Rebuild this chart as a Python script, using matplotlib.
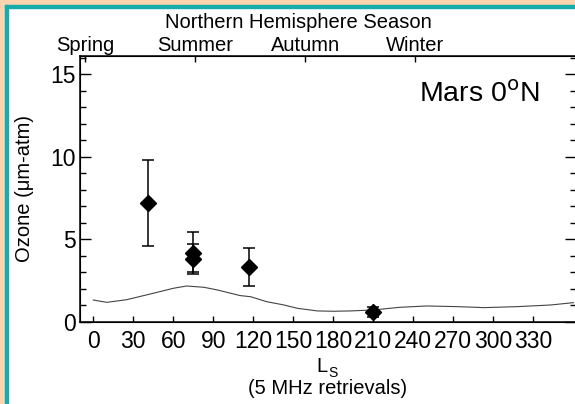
import numpy as np
import matplotlib
matplotlib.use("Agg")
import matplotlib.pyplot as plt
from matplotlib.patches import Rectangle

plt.rcParams['font.family'] = ['Liberation Sans', 'DejaVu Sans']

# retrievals (5 MHz)
ls_obs = [41, 75, 75, 116.5, 210]
ozone_obs = [7.2, 4.2, 3.8, 3.3, 0.6]
err_lo = [2.6, 1.15, 0.9, 1.15, 0.3]
err_hi = [2.6, 1.25, 0.9, 1.15, 0.3]

# model curve
ls_model = [0, 10, 25, 43, 60, 70, 83, 93, 110, 118, 130, 143, 153, 168,
            180, 193, 210, 230, 250, 273, 293, 318, 343, 360]
ozone_model = [1.33, 1.19, 1.35, 1.70, 2.04, 2.18, 2.10, 1.94, 1.60, 1.53,
               1.23, 1.03, 0.83, 0.67, 0.65, 0.67, 0.73, 0.89, 0.97, 0.93,
               0.87, 0.93, 1.03, 1.17]

xticks = list(range(0, 331, 30))
seasons = ['Spring', 'Summer', 'Autumn', 'Winter']
season_ls = [-6, 76.5, 159, 241.5]

W, H = 575, 404
fig = plt.figure(figsize=(W / 100, H / 100), dpi=100)
fs = 14.5
tfs = 16.5

# frame around the picture
fig.patches.append(Rectangle((0, 1 - 5 / H), 1, 5 / H, transform=fig.transFigure,
                             color='#fdd4ae', zorder=0))
fig.patches.append(Rectangle((0, 0), 5 / W, 1, transform=fig.transFigure,
                             color='#fdd4ae', zorder=0))
fig.patches.append(Rectangle((5 / W, 0), 2.5 / W, 1 - 5 / H, transform=fig.transFigure,
                             color='#17acab', zorder=1))
fig.patches.append(Rectangle((5 / W, 1 - 7.5 / H), 1, 2.5 / H, transform=fig.transFigure,
                             color='#17acab', zorder=1))

ax = fig.add_axes([80 / W, (H - 322) / H, 496 / W, 266 / H])
ax.plot(ls_model, ozone_model, color='#444444', lw=0.8)
ax.errorbar(ls_obs, ozone_obs, yerr=[err_lo, err_hi], fmt='D', color='black',
            ms=8, elinewidth=1.1, capsize=4, capthick=1.1)

ax.set_xlim(-10, 362)
ax.set_ylim(0, 16.1)
ax.set_xticks(xticks)
ax.set_yticks([0, 5, 10, 15])
ax.set_yticks(range(0, 17), minor=True)
ax.tick_params(axis='x', direction='in', length=4, width=1, top=False, labelsize=tfs, pad=6)
ax.tick_params(axis='y', which='major', direction='in', length=8, width=1,
               right=True, labelsize=tfs, pad=3)
ax.tick_params(axis='y', which='minor', direction='in', length=4.5, width=1, right=True)
for s in ax.spines.values():
    s.set_linewidth(1.1)
ax.set_ylabel('Ozone (μm-atm)', fontsize=fs)
ax.yaxis.set_label_coords(-46 / 496, 0.5)

ax2 = ax.twiny()
ax2.set_xlim(ax.get_xlim())
ax2.set_xticks(season_ls)
ax2.set_xticklabels(seasons)
ax2.tick_params(axis='x', direction='in', length=4, width=1, labelsize=fs, pad=1)

fig.text(298 / W, 1 - 23 / H, 'Northern Hemisphere Season', fontsize=fs,
         ha='center', va='center')
ax.text(0.927, 0.855, 'Mars 0$^{\\mathrm{o}}$N', transform=ax.transAxes,
        fontsize=20.5, ha='right', va='center')
fig.text(328 / W, 1 - 366 / H, 'L', fontsize=fs, ha='right', va='center')
fig.text(328 / W, 1 - 373 / H, 'S', fontsize=10, ha='left', va='center')
fig.text(328 / W, 1 - 389 / H, '(5 MHz retrievals)', fontsize=fs, ha='center', va='center')

fig.savefig('out.png', dpi=100)
